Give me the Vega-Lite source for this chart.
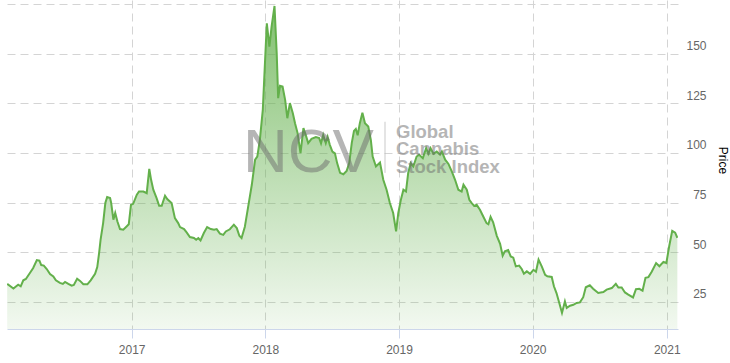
{
  "$schema": "https://vega.github.io/schema/vega-lite/v6.json",
  "width": 671,
  "height": 329,
  "autosize": {"type": "none"},
  "padding": {"left": 7, "top": 0, "right": 52, "bottom": 34},
  "background": "white",
  "config": {"view": {"stroke": null}, "font": "Liberation Sans"},
  "data": {"values": [
    {"date":"2016-01-27","price":34.1},{"date":"2016-02-13","price":31.8},{"date":"2016-02-26","price":33.7},{"date":"2016-03-04","price":32.9},
    {"date":"2016-03-11","price":35.9},{"date":"2016-03-18","price":36.6},{"date":"2016-03-29","price":39.6},{"date":"2016-04-07","price":42.1},
    {"date":"2016-04-17","price":46.1},{"date":"2016-04-24","price":45.8},{"date":"2016-04-29","price":43.6},{"date":"2016-05-06","price":43.3},
    {"date":"2016-05-14","price":41.6},{"date":"2016-05-23","price":39.1},{"date":"2016-06-01","price":37.9},{"date":"2016-06-08","price":35.9},
    {"date":"2016-06-19","price":34.6},{"date":"2016-06-27","price":34.1},{"date":"2016-07-03","price":35.1},{"date":"2016-07-12","price":34.1},
    {"date":"2016-07-21","price":33.2},{"date":"2016-07-27","price":33.6},{"date":"2016-08-05","price":36.7},{"date":"2016-08-13","price":35.6},
    {"date":"2016-08-22","price":33.9},{"date":"2016-09-02","price":33.9},{"date":"2016-09-11","price":35.9},{"date":"2016-09-23","price":39.2},
    {"date":"2016-09-29","price":42.6},{"date":"2016-10-04","price":49.6},{"date":"2016-10-08","price":56.3},{"date":"2016-10-15","price":64.7},
    {"date":"2016-10-21","price":74.8},{"date":"2016-10-26","price":77.8},{"date":"2016-11-03","price":77.3},{"date":"2016-11-06","price":74.8},
    {"date":"2016-11-12","price":66.4},{"date":"2016-11-17","price":69.8},{"date":"2016-11-23","price":65.5},{"date":"2016-11-30","price":61.7},
    {"date":"2016-12-09","price":61.4},{"date":"2016-12-18","price":63.0},{"date":"2016-12-24","price":64.1},{"date":"2016-12-30","price":73.9},
    {"date":"2017-01-05","price":74.4},{"date":"2017-01-15","price":79.0},{"date":"2017-01-21","price":80.6},{"date":"2017-02-02","price":80.6},
    {"date":"2017-02-11","price":79.8},{"date":"2017-02-18","price":92.0},{"date":"2017-02-23","price":86.5},{"date":"2017-03-01","price":81.5},
    {"date":"2017-03-10","price":77.3},{"date":"2017-03-17","price":73.4},{"date":"2017-03-24","price":73.4},{"date":"2017-04-02","price":78.5},
    {"date":"2017-04-08","price":76.8},{"date":"2017-04-20","price":74.8},{"date":"2017-04-29","price":67.2},{"date":"2017-05-08","price":64.7},
    {"date":"2017-05-13","price":62.7},{"date":"2017-05-24","price":61.7},{"date":"2017-05-31","price":60.0},{"date":"2017-06-09","price":57.7},
    {"date":"2017-06-20","price":57.2},{"date":"2017-06-26","price":56.3},{"date":"2017-07-02","price":57.2},{"date":"2017-07-08","price":56.0},
    {"date":"2017-07-17","price":59.7},{"date":"2017-07-26","price":62.7},{"date":"2017-08-05","price":61.7},{"date":"2017-08-14","price":61.4},
    {"date":"2017-08-21","price":61.7},{"date":"2017-08-30","price":59.4},{"date":"2017-09-08","price":58.8},{"date":"2017-09-15","price":60.5},
    {"date":"2017-09-26","price":61.6},{"date":"2017-10-07","price":63.9},{"date":"2017-10-15","price":62.2},{"date":"2017-10-22","price":58.3},
    {"date":"2017-10-28","price":57.2},{"date":"2017-11-06","price":62.9},{"date":"2017-11-15","price":72.9},{"date":"2017-11-25","price":84.0},
    {"date":"2017-12-04","price":96.6},{"date":"2017-12-10","price":98.2},{"date":"2017-12-17","price":106.6},{"date":"2017-12-25","price":121.7},
    {"date":"2017-12-30","price":141.8},{"date":"2018-01-05","price":165.3},{"date":"2018-01-12","price":153.5},{"date":"2018-01-18","price":163.6},
    {"date":"2018-01-26","price":174.0},{"date":"2018-02-01","price":150.2},{"date":"2018-02-05","price":127.6},{"date":"2018-02-10","price":133.8},
    {"date":"2018-02-17","price":133.4},{"date":"2018-02-24","price":126.7},{"date":"2018-03-02","price":117.5},{"date":"2018-03-09","price":125.1},
    {"date":"2018-03-17","price":120.0},{"date":"2018-03-23","price":115.0},{"date":"2018-03-30","price":110.0},{"date":"2018-04-07","price":99.9},
    {"date":"2018-04-15","price":112.5},{"date":"2018-04-22","price":108.6},{"date":"2018-04-28","price":105.0},{"date":"2018-05-07","price":107.1},
    {"date":"2018-05-19","price":108.0},{"date":"2018-05-28","price":107.5},{"date":"2018-06-02","price":104.9},{"date":"2018-06-08","price":109.1},
    {"date":"2018-06-15","price":105.0},{"date":"2018-06-20","price":108.1},{"date":"2018-06-26","price":104.1},{"date":"2018-07-03","price":100.7},
    {"date":"2018-07-10","price":99.8},{"date":"2018-07-16","price":94.9},{"date":"2018-07-24","price":90.0},{"date":"2018-08-02","price":89.3},
    {"date":"2018-08-11","price":91.0},{"date":"2018-08-18","price":94.9},{"date":"2018-08-25","price":105.1},{"date":"2018-08-31","price":111.1},
    {"date":"2018-09-05","price":112.1},{"date":"2018-09-10","price":108.9},{"date":"2018-09-16","price":115.0},{"date":"2018-09-23","price":120.3},
    {"date":"2018-09-30","price":115.0},{"date":"2018-10-09","price":113.3},{"date":"2018-10-16","price":106.6},{"date":"2018-10-21","price":98.2},
    {"date":"2018-10-30","price":93.2},{"date":"2018-11-10","price":95.2},{"date":"2018-11-19","price":86.5},{"date":"2018-11-28","price":81.5},
    {"date":"2018-12-07","price":74.8},{"date":"2018-12-16","price":69.8},{"date":"2018-12-24","price":60.5},{"date":"2018-12-30","price":69.8},
    {"date":"2019-01-06","price":76.4},{"date":"2019-01-13","price":81.5},{"date":"2019-01-20","price":80.6},{"date":"2019-01-26","price":89.9},
    {"date":"2019-02-02","price":94.9},{"date":"2019-02-09","price":93.2},{"date":"2019-02-18","price":98.2},{"date":"2019-02-25","price":99.1},
    {"date":"2019-03-07","price":97.4},{"date":"2019-03-16","price":102.4},{"date":"2019-03-22","price":99.6},{"date":"2019-03-28","price":102.4},
    {"date":"2019-04-05","price":99.6},{"date":"2019-04-14","price":100.7},{"date":"2019-04-23","price":99.1},{"date":"2019-04-28","price":100.7},
    {"date":"2019-05-07","price":96.6},{"date":"2019-05-16","price":94.5},{"date":"2019-05-25","price":90.7},{"date":"2019-06-03","price":86.5},
    {"date":"2019-06-12","price":81.5},{"date":"2019-06-21","price":80.6},{"date":"2019-06-26","price":84.0},{"date":"2019-07-05","price":81.5},
    {"date":"2019-07-12","price":76.4},{"date":"2019-07-18","price":74.9},{"date":"2019-07-25","price":73.4},{"date":"2019-08-01","price":73.9},
    {"date":"2019-08-10","price":71.4},{"date":"2019-08-19","price":68.0},{"date":"2019-08-28","price":64.7},{"date":"2019-09-02","price":64.1},
    {"date":"2019-09-08","price":67.9},{"date":"2019-09-15","price":65.1},{"date":"2019-09-25","price":58.3},{"date":"2019-10-04","price":54.3},
    {"date":"2019-10-11","price":48.3},{"date":"2019-10-17","price":50.5},{"date":"2019-10-26","price":51.1},{"date":"2019-11-02","price":47.9},
    {"date":"2019-11-09","price":47.3},{"date":"2019-11-16","price":42.9},{"date":"2019-11-25","price":43.3},{"date":"2019-12-02","price":41.6},
    {"date":"2019-12-08","price":39.2},{"date":"2019-12-16","price":40.4},{"date":"2019-12-25","price":39.2},{"date":"2020-01-03","price":41.2},
    {"date":"2020-01-10","price":40.2},{"date":"2020-01-17","price":46.3},{"date":"2020-01-26","price":42.8},{"date":"2020-02-04","price":38.7},
    {"date":"2020-02-10","price":37.9},{"date":"2020-02-22","price":37.6},{"date":"2020-02-28","price":32.9},{"date":"2020-03-06","price":29.5},
    {"date":"2020-03-14","price":24.2},{"date":"2020-03-21","price":19.5},{"date":"2020-03-29","price":25.3},{"date":"2020-04-03","price":22.0},
    {"date":"2020-04-12","price":23.1},{"date":"2020-04-21","price":23.6},{"date":"2020-04-30","price":24.5},{"date":"2020-05-09","price":24.8},
    {"date":"2020-05-18","price":27.4},{"date":"2020-05-25","price":32.4},{"date":"2020-06-05","price":33.4},{"date":"2020-06-14","price":31.7},
    {"date":"2020-06-28","price":29.5},{"date":"2020-07-12","price":30.0},{"date":"2020-07-21","price":31.2},{"date":"2020-08-04","price":32.0},
    {"date":"2020-08-15","price":34.1},{"date":"2020-08-22","price":32.3},{"date":"2020-08-31","price":32.3},{"date":"2020-09-09","price":29.8},
    {"date":"2020-09-18","price":28.7},{"date":"2020-10-01","price":27.3},{"date":"2020-10-09","price":31.4},{"date":"2020-10-18","price":31.6},
    {"date":"2020-10-27","price":30.7},{"date":"2020-11-04","price":37.2},{"date":"2020-11-12","price":37.5},{"date":"2020-11-21","price":40.2},
    {"date":"2020-12-03","price":44.6},{"date":"2020-12-12","price":43.0},{"date":"2020-12-23","price":45.2},{"date":"2020-12-31","price":44.6},
    {"date":"2021-01-08","price":53.3},{"date":"2021-01-16","price":60.8},{"date":"2021-01-24","price":59.9},{"date":"2021-01-30","price":57.3}
  ]},
  "layer": [
    {
      "mark": {
        "type": "area",
        "line": false,
        "clip": true,
        "color": {
          "gradient": "linear",
          "x1": 0, "y1": 1, "x2": 0, "y2": 0,
          "stops": [
            {"offset": 0, "color": "rgba(100,177,77,0.03)"},
            {"offset": 1, "color": "rgba(100,177,77,0.8)"}
          ]
        }
      },
      "encoding": {
        "x": {
          "field": "date",
          "type": "temporal",
          "scale": {
            "type": "utc",
            "domain": [
              {"year": 2016, "month": 1, "date": 26, "hours": 12, "utc": true},
              {"year": 2021, "month": 1, "date": 31, "hours": 19, "utc": true}
            ]
          },
          "axis": {
            "title": null,
            "format": "%Y",
            "tickCount": {"interval": "year", "step": 1},
            "grid": true,
            "gridDash": [8, 5],
            "gridColor": "#d4d4d4",
            "domainColor": "#ccd6eb",
            "tickColor": "#ccd6eb",
            "tickSize": 9,
            "labelColor": "#666666",
            "labelFontSize": 12,
            "labelFont": "Liberation Sans",
            "labelPadding": 6,
            "labelFlush": false,
            "labelOverlap": false
          }
        },
        "y": {
          "field": "price",
          "type": "quantitative",
          "scale": {"domain": [11.4, 177], "nice": false, "zero": false},
          "axis": {
            "orient": "right",
            "values": [25, 50, 75, 100, 125, 150, 175],
            "grid": true,
            "gridDash": [8, 5],
            "gridColor": "#d4d4d4",
            "domain": false,
            "ticks": false,
            "labelAlign": "right",
            "labelBaseline": "middle",
            "labelPadding": 28,
            "labelOffset": -8,
            "labelColor": "#666666",
            "labelFontSize": 12,
            "labelFont": "Liberation Sans",
            "labelOverlap": false,
            "title": "Price",
            "titleFont": "Liberation Sans",
            "titleFontSize": 12,
            "titleFontWeight": "normal",
            "titleColor": "#000000",
            "titleAngle": 90,
            "titleBaseline": "middle",
            "titleAlign": "center",
            "titleX": 44,
            "titleY": 160
          }
        }
      }
    },
    {
      "mark": {"type": "line", "color": "#63b04b", "strokeWidth": 2, "clip": true},
      "encoding": {
        "x": {"field": "date", "type": "temporal"},
        "y": {"field": "price", "type": "quantitative"}
      }
    },
    {
      "data": {"values": [{}]},
      "mark": {"type": "text", "text": "NCV", "font": "Liberation Sans", "fontSize": 62, "align": "left", "baseline": "alphabetic", "fill": "#6e6e6e", "opacity": 0.5},
      "encoding": {
        "x": {"datum": {"year": 2017, "month": 10, "date": 31, "hours": 22, "utc": true}, "type": "temporal"},
        "y": {"datum": 90.5, "type": "quantitative"}
      }
    },
    {
      "data": {"values": [{}]},
      "mark": {"type": "rule", "color": "#bbbbbb", "strokeWidth": 1, "opacity": 0.8},
      "encoding": {
        "x": {"datum": {"year": 2018, "month": 11, "date": 23, "hours": 17, "utc": true}, "type": "temporal"},
        "y": {"datum": 115.7, "type": "quantitative"},
        "y2": {"datum": 90.0}
      }
    },
    {
      "data": {"values": [{}]},
      "mark": {"type": "text", "text": ["Global", "Cannabis", "Stock Index"], "lineHeight": 17.5, "font": "Liberation Sans", "fontSize": 18.5, "fontWeight": "bold", "align": "left", "baseline": "alphabetic", "fill": "#6e6e6e", "opacity": 0.5},
      "encoding": {
        "x": {"datum": {"year": 2018, "month": 12, "date": 23, "hours": 17, "utc": true}, "type": "temporal"},
        "y": {"datum": 107.6, "type": "quantitative"}
      }
    }
  ]
}
